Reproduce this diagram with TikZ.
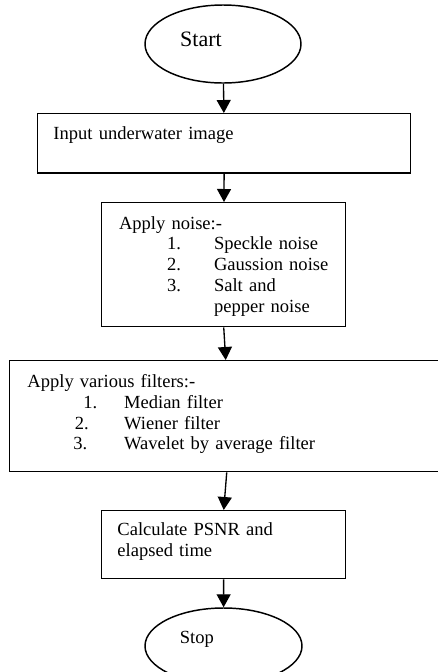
\documentclass[tikz,border=0pt]{standalone}
\usepackage{fontspec}
\setmainfont{Liberation Serif}
\usetikzlibrary{arrows.meta,shapes.geometric}
\newlength{\itemtab}
\newcommand{\numline}[3]{\hspace*{#1}\rlap{#2}\hspace*{\dimexpr\itemtab-#1\relax}#3}

\begin{document}
\begin{tikzpicture}[x=0.75pt, y=-0.75pt, every node/.style={font=\fontsize{13.9pt}{15.6pt}\selectfont},
        itemtab/.code={\setlength{\itemtab}{#1}}]
        \tikzstyle{term} = [draw, ellipse, line width=1.1pt, inner sep=0pt]
        \tikzstyle{proc} = [draw, rectangle, line width=1.1pt, anchor=north west, align=left, inner ysep=0pt]
        \tikzstyle{flow} = [-{Triangle[width=10.5pt, length=9.75pt]}, line width=1pt]
        \useasboundingbox (0,0) rectangle (437,672);
        \node[term, minimum width=117pt, minimum height=58.5pt, text height=4pt, text depth=0pt,
              font=\fontsize{16.5pt}{19pt}\selectfont] (start) at (223,44) {Start\hspace*{33pt}};
        \node[proc, inner xsep=11.8pt, text width=256.15pt, text height=19pt, text depth=25.3pt]
              (input) at (37,113) {Input underwater image};
        \node[proc, inner xsep=13pt, text width=157pt, text height=19.7pt, text depth=73.3pt, itemtab=71.25pt]
              (noise) at (101,202) {Apply noise:-\\
              \numline{36pt}{1.}{Speckle~noise}\\
              \numline{36pt}{2.}{Gaussion~noise}\\
              \numline{36pt}{3.}{Salt~and}\\
              \hspace*{\itemtab}pepper~noise};
        \node[proc, inner xsep=13.3pt, text width=295.9pt, text height=20pt, text depth=63.2pt, itemtab=72.5pt]
              (filters) at (9,360) {Apply various filters:-\\
              \numline{42pt}{1.}{Median~filter}\\
              \numline{35.5pt}{2.}{Wiener~filter}\\
              \numline{34.5pt}{3.}{Wavelet~by~average~filter}};
        \node[proc, inner xsep=11.8pt, text width=159.4pt, text height=18.75pt, text depth=32.25pt]
              (calc) at (101,510) {Calculate PSNR and\\ elapsed time};
        \node[term, minimum width=117.75pt, minimum height=57pt, text height=0pt, text depth=4pt]
              (stop) at (223.5,646) {Stop\hspace*{40pt}};
        \draw[flow] (start) -- (input);
        \draw[flow] (input) -- (noise);
        \draw[flow] (noise.south) -- ([xshift=0.75pt]filters.north);
        \draw[flow] ([xshift=1.5pt]filters.south) -- (calc.north);
        \draw[flow] (calc) -- (stop);
\end{tikzpicture}
\end{document}
